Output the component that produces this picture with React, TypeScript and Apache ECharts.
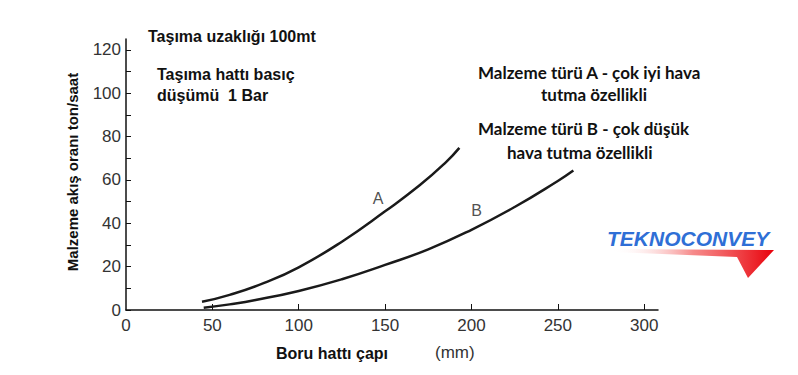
import React, { useEffect, useRef } from "react";
import * as echarts from "echarts";

const xTicks = [0, 50, 100, 150, 200, 250, 300];
const yLabels = [0, 20, 40, 60, 80, 100, 120];
const yTicks = [0, 10, 20, 30, 40, 50, 60, 70, 80, 90, 100, 110, 120];

const seriesA: [number, number][] = [
  [44, 3.8], [60, 7], [80, 12.5], [100, 19.7], [125, 31.5], [150, 45.5], [170, 57.5], [185, 68], [193, 74.8],
];
const seriesB: [number, number][] = [
  [45, 1], [60, 2.6], [75, 4.6], [100, 8.8], [125, 14.2], [150, 20.8], [175, 28], [200, 37], [225, 47.5], [250, 59.5], [259, 64.3],
];
const curveLabels: { name: string; value: [number, number] }[] = [
  { name: "A", value: [146, 51.5] },
  { name: "B", value: [203, 46] },
];

const ARIAL = "'Liberation Sans', Arial, sans-serif";
const CAL = "Lato, 'Open Sans', sans-serif";

export default function App() {
  const ref = useRef<HTMLDivElement>(null);
  useEffect(() => {
    if (!ref.current) return;
    const chart = echarts.init(ref.current, null, { renderer: "svg" });
    const lineStyle = { color: "#1a1a1a", width: 2.5 };
    chart.setOption({
      animation: false,
      grid: { left: 126, right: 140, top: 39, bottom: 65 },
      xAxis: {
        type: "value",
        min: 0,
        max: 308,
        interval: 50,
        axisLine: { lineStyle: { color: "#111", width: 1.5 } },
        axisTick: { inside: true, length: 6, customValues: xTicks.filter((v) => v > 0), lineStyle: { color: "#111" } },
        axisLabel: { customValues: xTicks, color: "#333", fontSize: 17, fontFamily: ARIAL, margin: 7 },
        splitLine: { show: false },
      },
      yAxis: {
        type: "value",
        min: 0,
        max: 125,
        interval: 10,
        axisLine: { show: true, lineStyle: { color: "#111", width: 1.5 } },
        axisTick: { show: true, inside: true, length: 5, customValues: yTicks, lineStyle: { color: "#111" } },
        axisLabel: { customValues: yLabels, color: "#333", fontSize: 17, fontFamily: ARIAL, margin: 5 },
        splitLine: { show: false },
      },
      series: [
        { type: "line", data: seriesA, smooth: 0.5, symbol: "none", lineStyle },
        { type: "line", data: seriesB, smooth: 0.5, symbol: "none", lineStyle },
        {
          type: "scatter",
          data: curveLabels,
          symbolSize: 1,
          itemStyle: { color: "rgba(0,0,0,0)" },
          label: {
            show: true,
            position: "inside",
            formatter: (p: any) => p.name,
            color: "#222",
            fontSize: 16,
            fontFamily: ARIAL,
          },
          silent: true,
        },
      ],
      graphic: [
        { type: "text", left: 148, top: 28, style: { text: "Taşıma uzaklığı 100mt", font: `bold 16px ${ARIAL}`, fill: "#111" } },
        { type: "text", left: 157, top: 66, style: { text: "Taşıma hattı basıç", font: `bold 16px ${ARIAL}`, fill: "#111" } },
        { type: "text", left: 157, top: 87, style: { text: "düşümü  1 Bar", font: `bold 16px ${ARIAL}`, fill: "#111" } },
        { type: "text", left: 478, top: 64, style: { text: "Malzeme türü A - çok iyi hava", font: `bold 17px ${CAL}`, fill: "#111" } },
        { type: "text", left: 541, top: 86, style: { text: "tutma özellikli", font: `bold 17px ${CAL}`, fill: "#111" } },
        { type: "text", left: 478, top: 120, style: { text: "Malzeme türü B - çok düşük", font: `bold 17px ${CAL}`, fill: "#111" } },
        { type: "text", left: 507, top: 144, style: { text: "hava tutma özellikli", font: `bold 17px ${CAL}`, fill: "#111" } },
        { type: "text", left: 276, top: 345, style: { text: "Boru hattı çapı", font: `bold 16px ${ARIAL}`, fill: "#111" } },
        { type: "text", left: 435, top: 344, style: { text: "(mm)", font: `17px ${ARIAL}`, fill: "#333" } },
        {
          type: "text",
          x: 72,
          y: 172,
          rotation: Math.PI / 2,
          style: { text: "Malzeme akış oranı ton/saat", font: `bold 15px ${ARIAL}`, fill: "#111", align: "center", verticalAlign: "middle" },
        },
        {
          type: "polygon",
          shape: { points: [[612, 249], [774, 250], [748, 278], [737, 257], [612, 252]] },
          style: {
            fill: new echarts.graphic.LinearGradient(0, 0, 1, 0, [
              { offset: 0, color: "rgba(255,255,255,0)" },
              { offset: 0.5, color: "rgba(240,60,60,0.6)" },
              { offset: 1, color: "#e8000a" },
            ]),
          },
        },
        {
          type: "text",
          left: 607,
          top: 228,
          style: { text: "TEKNOCONVEY", font: `italic bold 21px ${ARIAL}`, fill: "#2f6fd6" },
        },
      ],
    });
    return () => chart.dispose();
  }, []);
  return <div ref={ref} style={{ width: 798, height: 375, position: "absolute", left: 0, top: 0 }} />;
}
